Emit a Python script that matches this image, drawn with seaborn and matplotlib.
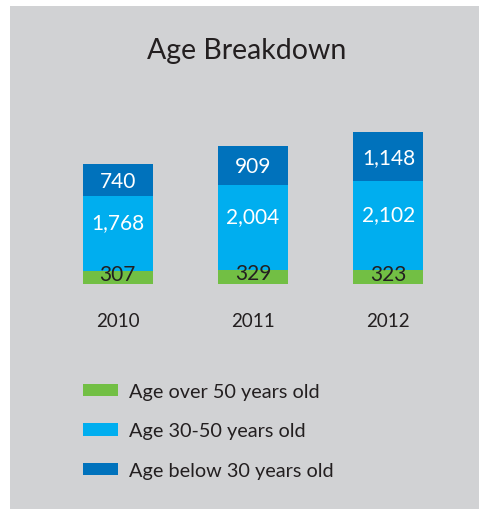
import matplotlib
matplotlib.use("Agg")
import matplotlib.pyplot as plt
from matplotlib.patches import Patch, Rectangle
import seaborn as sns
import pandas as pd

# data
years = ["2010", "2011", "2012"]
over_50 = [307, 329, 323]
age_30_50 = [1768, 2004, 2102]
below_30 = [740, 909, 1148]
series_labels = ["Age over 50 years old", "Age 30-50 years old", "Age below 30 years old"]
colors = ["#72BF44", "#00AEEF", "#0072BC"]

sns.set_theme(style="white")
plt.rcParams["font.family"] = ["Lato", "DejaVu Sans"]

W, H = 482, 510
fig = plt.figure(figsize=(W / 100, H / 100), dpi=100)
fig.patch.set_facecolor("white")

# gray card behind everything
fig.patches.append(Rectangle((10 / W, 0), 469 / W, 1 - 7 / H, transform=fig.transFigure,
                             facecolor="#D1D2D4", edgecolor="none", zorder=-5))

fig.text(247 / W, 1 - 51 / H, "Age Breakdown", ha="center", va="center",
         fontsize=20.5, color="#231F20")

df = pd.DataFrame({"year": years, "over_50": over_50,
                   "age_30_50": age_30_50, "below_30": below_30})
df["lvl1"] = df["over_50"]
df["lvl2"] = df["over_50"] + df["age_30_50"]
df["lvl3"] = df["lvl2"] + df["below_30"]

ax = fig.add_axes([50 / W, 1 - 285 / H, 406 / W, 165 / H])
ax.set_facecolor("none")
bar_w = 70 / 135.3
for col, c in zip(["lvl3", "lvl2", "lvl1"], colors[::-1]):
    sns.barplot(data=df, x="year", y=col, order=years, color=c, width=bar_w,
                saturation=1, linewidth=0, ax=ax)

ax.set_xlim(-0.5, 2.5)
ax.set_ylim(0, 165 / 0.04263)
ax.axis("off")

for i in range(len(years)):
    ax.text(i, df["lvl1"][i] - 80, f"{over_50[i]:,}", ha="center", va="center",
            fontsize=15, color="#231F20")
    ax.text(i, df["lvl1"][i] + age_30_50[i] / 2 + 270, f"{age_30_50[i]:,}",
            ha="center", va="center", fontsize=15, color="white")
    ax.text(i, df["lvl2"][i] + below_30[i] / 2 - 20, f"{below_30[i]:,}",
            ha="center", va="center", fontsize=15, color="white")
    ax.text(i, -860, years[i], ha="center", va="center", fontsize=13.5, color="#231F20")

handles = [Patch(facecolor=c, edgecolor="none") for c in colors]
fig.legend(handles, series_labels, loc="upper left",
           bbox_to_anchor=(83 / W, 1 - 384 / H), frameon=False,
           fontsize=14.3, handlelength=1.76, handleheight=0.6,
           handletextpad=0.55, labelspacing=1.13, borderpad=0, borderaxespad=0,
           labelcolor="#231F20")

fig.savefig("out.png", dpi=100)
